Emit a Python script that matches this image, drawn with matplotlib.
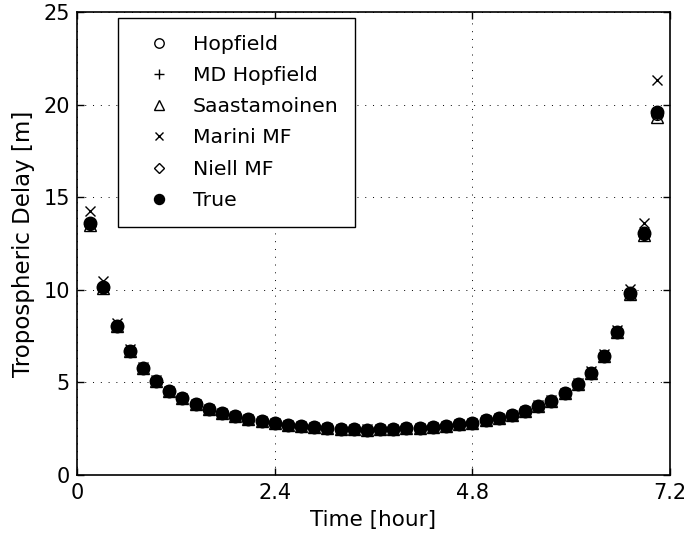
import matplotlib
matplotlib.use("Agg")
import matplotlib.pyplot as plt

time_h = [0.16, 0.32, 0.48, 0.64, 0.80, 0.96, 1.12, 1.28, 1.44, 1.60, 1.76,
          1.92, 2.08, 2.24, 2.40, 2.56, 2.72, 2.88, 3.04, 3.20, 3.36, 3.52,
          3.68, 3.84, 4.00, 4.16, 4.32, 4.48, 4.64, 4.80, 4.96, 5.12, 5.28,
          5.44, 5.60, 5.76, 5.92, 6.08, 6.24, 6.40, 6.56, 6.72, 6.88, 7.04]

true_delay = [13.60, 10.13, 8.05, 6.70, 5.77, 5.07, 4.51, 4.13, 3.81, 3.54, 3.33,
              3.18, 3.02, 2.89, 2.79, 2.69, 2.64, 2.57, 2.52, 2.48, 2.46, 2.45,
              2.47, 2.49, 2.52, 2.55, 2.59, 2.64, 2.73, 2.82, 2.95, 3.07, 3.23,
              3.45, 3.73, 4.01, 4.41, 4.91, 5.52, 6.44, 7.73, 9.80, 13.05, 19.60]

hopfield = [13.55, 10.12, 8.05, 6.70, 5.77, 5.07, 4.51, 4.13, 3.81, 3.54, 3.33,
            3.18, 3.02, 2.89, 2.79, 2.69, 2.64, 2.57, 2.52, 2.48, 2.46, 2.45,
            2.47, 2.49, 2.52, 2.55, 2.59, 2.64, 2.73, 2.82, 2.95, 3.07, 3.23,
            3.45, 3.73, 4.01, 4.41, 4.91, 5.52, 6.44, 7.73, 9.78, 13.00, 19.50]

md_hopfield = [13.60, 10.13, 8.05, 6.70, 5.77, 5.07, 4.51, 4.13, 3.81, 3.54, 3.33,
               3.18, 3.02, 2.89, 2.79, 2.69, 2.64, 2.57, 2.52, 2.48, 2.46, 2.45,
               2.47, 2.49, 2.52, 2.55, 2.59, 2.64, 2.73, 2.82, 2.95, 3.07, 3.23,
               3.45, 3.73, 4.01, 4.41, 4.91, 5.52, 6.44, 7.73, 9.80, 13.05, 19.60]

saastamoinen = [13.50, 10.10, 8.04, 6.70, 5.77, 5.07, 4.51, 4.13, 3.81, 3.54, 3.33,
                3.18, 3.02, 2.89, 2.79, 2.69, 2.64, 2.57, 2.52, 2.48, 2.46, 2.45,
                2.47, 2.49, 2.52, 2.55, 2.59, 2.64, 2.73, 2.82, 2.95, 3.07, 3.23,
                3.45, 3.73, 4.01, 4.41, 4.91, 5.52, 6.44, 7.72, 9.76, 12.95, 19.35]

marini_mf = [14.25, 10.45, 8.20, 6.78, 5.82, 5.10, 4.53, 4.14, 3.82, 3.55, 3.34,
             3.19, 3.03, 2.90, 2.80, 2.70, 2.65, 2.58, 2.53, 2.49, 2.47, 2.46,
             2.48, 2.50, 2.53, 2.56, 2.60, 2.65, 2.74, 2.83, 2.96, 3.09, 3.25,
             3.47, 3.76, 4.05, 4.45, 4.96, 5.60, 6.52, 7.85, 10.05, 13.60, 21.35]

niell_mf = [13.58, 10.12, 8.05, 6.70, 5.77, 5.07, 4.51, 4.13, 3.81, 3.54, 3.33,
            3.18, 3.02, 2.89, 2.79, 2.69, 2.64, 2.57, 2.52, 2.48, 2.46, 2.45,
            2.47, 2.49, 2.52, 2.55, 2.59, 2.64, 2.73, 2.82, 2.95, 3.07, 3.23,
            3.45, 3.73, 4.01, 4.41, 4.91, 5.52, 6.44, 7.73, 9.79, 13.02, 19.55]

x_ticks = [0, 2.4, 4.8, 7.2]
x_tick_labels = ["0", "2.4", "4.8", "7.2"]
y_ticks = [0, 5, 10, 15, 20, 25]

plt.rcParams['font.family'] = ['DejaVu Sans']

fig = plt.figure(figsize=(6.89, 5.37), dpi=100)
ax = fig.add_axes([0.1118, 0.1156, 0.8606, 0.8622])

ms = 8.5
mew = 1.0
ax.plot(time_h, hopfield, linestyle='none', marker='o', markersize=ms,
        markerfacecolor='none', markeredgecolor='black', markeredgewidth=mew, label='Hopfield')
ax.plot(time_h, md_hopfield, linestyle='none', marker='+', markersize=ms,
        color='black', markeredgewidth=mew, label='MD Hopfield')
ax.plot(time_h, saastamoinen, linestyle='none', marker='^', markersize=ms,
        markerfacecolor='none', markeredgecolor='black', markeredgewidth=mew, label='Saastamoinen')
ax.plot(time_h, marini_mf, linestyle='none', marker='x', markersize=ms - 1,
        color='black', markeredgewidth=mew, label='Marini MF')
ax.plot(time_h, niell_mf, linestyle='none', marker='D', markersize=ms - 2,
        markerfacecolor='none', markeredgecolor='black', markeredgewidth=mew, label='Niell MF')
ax.plot(time_h, true_delay, linestyle='none', marker='o', markersize=ms + 0.5,
        markerfacecolor='black', markeredgecolor='black', label='True')

ax.set_xlim(0, 7.2)
ax.set_ylim(0, 25)
ax.set_xticks(x_ticks)
ax.set_xticklabels(x_tick_labels)
ax.set_yticks(y_ticks)
ax.tick_params(direction='in', length=5, width=1, top=True, right=True,
               labelsize=15, colors='black')
ax.tick_params(axis='x', pad=6)
ax.tick_params(axis='y', pad=5)
ax.grid(True, color='black', linestyle=(0, (1, 7)), linewidth=0.7)
for s in ax.spines.values():
    s.set_linewidth(1.2)

ax.set_xlabel('Time [hour]', fontsize=15.5, labelpad=5)
ax.set_ylabel('Tropospheric Delay [m]', fontsize=16.5, labelpad=6)

leg = ax.legend(loc='upper left', bbox_to_anchor=(0.069, 0.987), borderaxespad=0,
                fontsize=14.7, frameon=True, fancybox=False, framealpha=1,
                edgecolor='black', handlelength=2.4, handletextpad=0.45,
                labelspacing=0.6, borderpad=0.82, markerscale=0.8)
leg.get_frame().set_linewidth(1.0)

fig.savefig('out.png', dpi=100)
